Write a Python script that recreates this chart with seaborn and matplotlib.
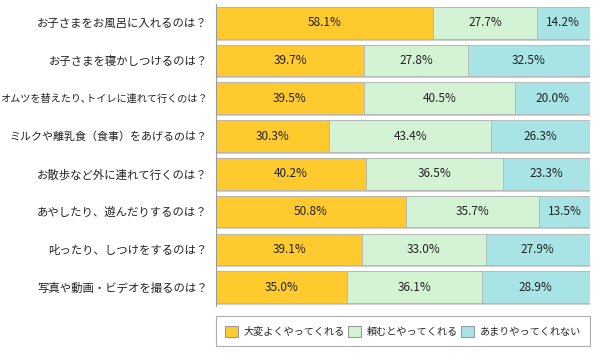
import numpy as np
import pandas as pd
import matplotlib
matplotlib.use("Agg")
import matplotlib.pyplot as plt
import seaborn as sns
from matplotlib.patches import Patch

# ── Data ───────────────────────────────────────────────────────────────────
QUESTIONS = [
    "お子さまをお風呂に入れるのは？",
    "お子さまを寝かしつけるのは？",
    "オムツを替えたり､トイレに連れて行くのは？",
    "ミルクや離乳食（食事）をあげるのは？",
    "お散歩など外に連れて行くのは？",
    "あやしたり、遊んだりするのは？",
    "叱ったり、しつけをするのは？",
    "写真や動画・ビデオを撮るのは？",
]
VERY_WELL  = [58.1, 39.7, 39.5, 30.3, 40.2, 50.8, 39.1, 35.0]
IF_ASKED   = [27.7, 27.8, 40.5, 43.4, 36.5, 35.7, 33.0, 36.1]
NOT_MUCH   = [14.2, 32.5, 20.0, 26.3, 23.3, 13.5, 27.9, 28.9]
SERIES     = ["大変よくやってくれる", "頼むとやってくれる", "あまりやってくれない"]
COLORS     = ["#FECA2E", "#D4F3D5", "#A8E4E6"]

# ── Style ──────────────────────────────────────────────────────────────────
sns.set_style("white")
plt.rcParams["font.family"] = ["Noto Sans CJK JP", "DejaVu Sans"]

pos = np.arange(len(QUESTIONS))
vals = np.array([VERY_WELL, IF_ASKED, NOT_MUCH])
cum = np.cumsum(vals, axis=0)

fig = plt.figure(figsize=(6, 3.55), dpi=100)
ax = fig.add_axes([0.36, 0.138, 0.623, 0.851])

H = 0.84
# bar shadow (light gray, just below each bar)
shadow = pd.DataFrame({"y": pos + 0.05, "x": cum[-1]})
sns.barplot(data=shadow, x="x", y="y", orient="y", native_scale=True,
            color="#CFCFCF", width=H, linewidth=0, saturation=1, ax=ax)

# stacked segments: draw cumulative totals back to front
for i in range(len(SERIES) - 1, -1, -1):
    df = pd.DataFrame({"y": pos, "x": cum[i]})
    sns.barplot(data=df, x="x", y="y", orient="y", native_scale=True,
                color=COLORS[i], width=H, edgecolor="#B4B4B4",
                linewidth=0.6, saturation=1, ax=ax)

# percentage labels
for i in range(len(SERIES)):
    start = cum[i] - vals[i]
    for j, v in enumerate(vals[i]):
        ax.text(start[j] + v / 2, pos[j], f"{v:.1f}%", ha="center",
                va="center", fontsize=8.5, color="#222222")

ax.set_xlim(0, 100)
ax.set_ylim(len(QUESTIONS) - 0.5, -0.5)
ax.set_yticks(pos)
ax.set_yticklabels(QUESTIONS, fontsize=8.2, color="#222222")
# the long labels need a smaller size to fit the left margin
for lbl in ax.get_yticklabels():
    n = len(lbl.get_text())
    if n > 20:
        lbl.set_fontsize(7.3)
    elif n > 17:
        lbl.set_fontsize(7.9)
ax.set_xticks([])
ax.set_xlabel("")
ax.set_ylabel("")
ax.tick_params(axis="y", length=0, pad=6)
for s in ["top", "right", "bottom"]:
    ax.spines[s].set_visible(False)
ax.spines["left"].set_color("#999999")
ax.spines["left"].set_linewidth(0.8)

handles = [Patch(facecolor=c, edgecolor="#999999", linewidth=0.8) for c in COLORS]
leg = fig.legend(handles, SERIES, loc="center", ncol=3, mode="expand",
                 bbox_to_anchor=(0.36, 0.02, 0.623, 0.093),
                 fontsize=7.3, frameon=True, fancybox=False,
                 handlelength=1.3, handleheight=1.4, handletextpad=0.5,
                 borderaxespad=0, borderpad=0.9, columnspacing=1.0)
leg.get_frame().set_edgecolor("#999999")
leg.get_frame().set_linewidth(0.8)

fig.savefig("out.png", dpi=100)
